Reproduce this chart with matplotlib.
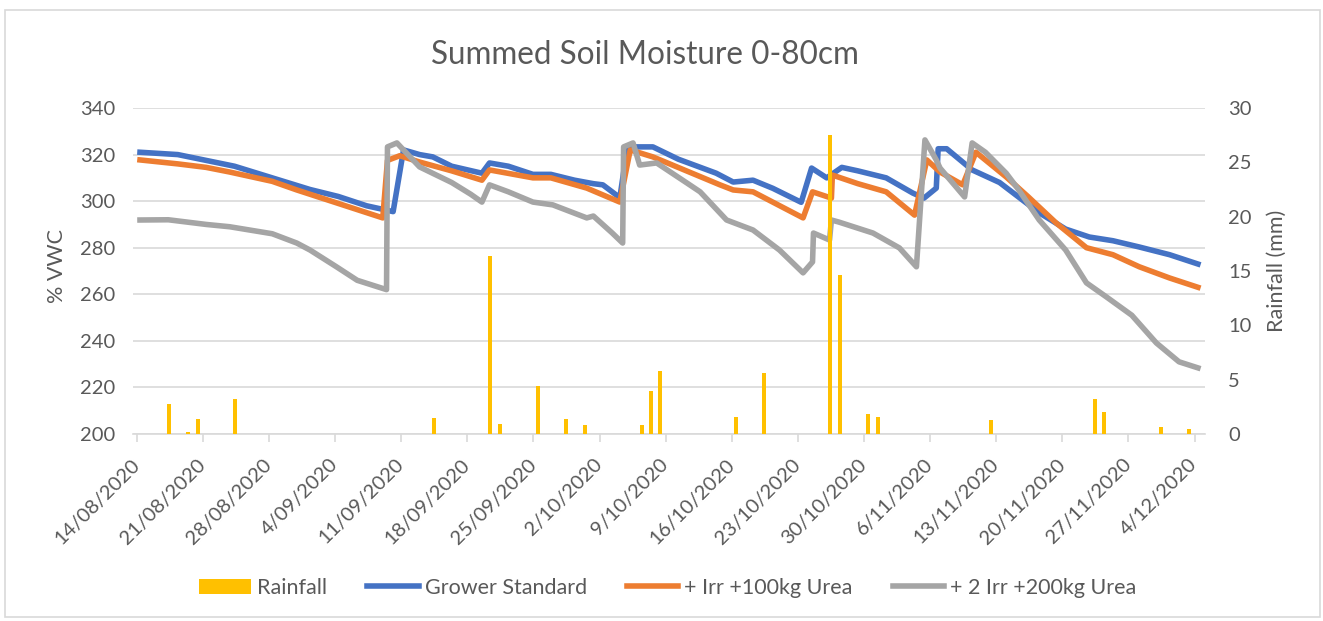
import matplotlib
matplotlib.use("Agg")
import matplotlib.pyplot as plt
import numpy as np

plt.rcParams['font.family'] = ['Lato', 'DejaVu Sans']

# x = days since 14/08/2020
tick_days = list(range(0, 113, 7))
tick_labels = ['14/08/2020', '21/08/2020', '28/08/2020', '4/09/2020', '11/09/2020',
               '18/09/2020', '25/09/2020', '2/10/2020', '9/10/2020', '16/10/2020',
               '23/10/2020', '30/10/2020', '6/11/2020', '13/11/2020', '20/11/2020',
               '27/11/2020', '4/12/2020']

rain_days = [3, 5, 6, 10, 31, 37, 38, 42, 45, 47, 53, 54, 55, 63, 66, 73, 74, 77, 78,
             90, 101, 102, 108, 111]
rain_mm = [2.8, 0.2, 1.4, 3.2, 1.5, 16.4, 0.9, 4.4, 1.4, 0.8, 0.8, 4.0, 5.8, 1.6, 5.6,
           27.5, 14.6, 1.8, 1.6, 1.3, 3.2, 2.0, 0.6, 0.5]

gs_days = [0, 4, 7, 10, 14, 18, 21, 24, 26.8, 27.9, 29.6, 31, 33, 36.2, 37, 39, 41.6,
           43.5, 46, 48, 49, 50.8, 51.6, 54.3, 57, 61, 62.8, 64.9, 67, 70, 71.1, 72.7,
           74.3, 76, 79, 81.8, 83, 84.3, 84.5, 85.4, 88.1, 91, 95.2, 98, 100.5, 103,
           105.8, 109, 112]
gs_vwc = [321, 320, 317.5, 315, 310, 305, 302, 298, 295.5, 322, 320, 319, 315, 312,
          316.4, 315, 311.5, 311.5, 309, 307.5, 307, 301.5, 323.3, 323.3, 318, 312,
          308.2, 309, 305.5, 299.5, 314.2, 310, 314.5, 313, 310, 303.5, 301.3, 305.6,
          322.5, 322.5, 313.4, 308, 295, 288, 284.6, 283, 280.3, 277, 273]

irr1_days = [0, 4, 7, 9.5, 14, 16.6, 21, 25.7, 26.2, 27.5, 29.6, 33, 36.2, 37, 41.6,
             43.5, 47.3, 50.8, 51.9, 54.3, 61.4, 62.8, 64.9, 70.2, 71.2, 73.2, 73.3, 76,
             79, 82, 83.3, 84.7, 87.1, 88.5, 91.7, 94, 97, 100.2, 103, 105.8, 109, 112]
irr1_vwc = [317.7, 316, 314.5, 312.5, 308.5, 304.8, 299, 292.8, 317.5, 319.5, 316.8,
            313, 309, 313.4, 310, 310, 305.6, 299.6, 322, 319, 307, 304.8, 304, 292.8,
            304, 301.3, 311.2, 307.5, 304, 294, 317.7, 312.5, 307, 321, 310.4, 302,
            290.6, 280, 277, 271.8, 267, 263]

irr2_days = [0, 3, 7, 9.5, 14, 16.6, 18, 20.8, 23, 26.1, 26.2, 27.2, 29.6, 33, 35,
             36.2, 37, 39, 41.6, 43.7, 47.3, 48, 50, 51.1, 51.2, 52.2, 52.9, 54.7, 57.9,
             59.3, 62.1, 64.9, 67.7, 70.2, 71.2, 71.3, 73, 73.2, 74, 77.6, 80.4, 82.2,
             83.1, 84.3, 84.7, 87.3, 88.1, 89.5, 91.7, 93, 95.2, 98, 100.2, 102.3, 105,
             107.6, 110, 112]
irr2_vwc = [291.9, 292, 290, 289, 286, 282, 279, 271.8, 266, 262, 323.3, 325, 314.7,
            308, 303, 299.6, 307, 304, 299.6, 298.4, 292.8, 293.6, 286.3, 282, 323.3,
            325, 315.5, 316.4, 307.8, 304, 291.9, 287.6, 279, 269.2, 273.9, 286.3, 283.3,
            291.9, 291, 286.3, 279.9, 271.8, 326.3, 317.7, 314.2, 301.8, 325, 321, 312,
            305, 291.9, 279, 264.9, 258.9, 251, 239.1, 231, 228.4]

txt = '#595959'
grid = '#D9D9D9'
W, H = 1323, 621

fig = plt.figure(figsize=(13.23, 6.21), dpi=100)
ax = fig.add_axes([133 / W, 1 - 434 / H, (1205 - 133) / W, 326 / H])
ax2 = ax.twinx()

# readings sit a little after the day boundary (excel date axis)
lo = 0.35
ax.plot(np.array(gs_days) + lo, gs_vwc, color='#4472C4', lw=4, label='Grower Standard')
ax.plot(np.array(irr1_days) + lo, irr1_vwc, color='#ED7D31', lw=4, label='+ Irr +100kg Urea')
ax.plot(np.array(irr2_days) + lo, irr2_vwc, color='#A5A5A5', lw=4, label='+ 2 Irr +200kg Urea')
ax2.bar(np.array(rain_days) + 0.45, rain_mm, width=0.42, color='#FFC000', label='Rainfall', zorder=3)

ax.set_xlim(-0.39, 113.1)
ax.set_ylim(200, 340)
ax2.set_ylim(0, 30)
ax.set_yticks(range(200, 341, 20))
ax2.set_yticks(range(0, 31, 5))
ax.yaxis.grid(True, color=grid, lw=1.2)
ax.set_axisbelow(True)

for a in (ax, ax2):
    for s in a.spines.values():
        s.set_visible(False)
ax.spines['bottom'].set_visible(True)
ax.spines['bottom'].set_color(grid)
ax.spines['bottom'].set_linewidth(1.2)

ax.set_xticks(tick_days)
ax.set_xticklabels(tick_labels, rotation=45, ha='right', va='center', rotation_mode='anchor')
ax.tick_params(axis='x', colors=grid, length=6, width=1.2, pad=14, labelcolor=txt, labelsize=14.5)
ax.tick_params(axis='y', length=0, labelcolor=txt, labelsize=14.5, pad=13)
ax2.tick_params(axis='y', length=0, labelcolor=txt, labelsize=14.5, pad=16.5)

ax.set_ylabel('% VWC', color=txt, fontsize=15.5)
ax2.set_ylabel('Rainfall (mm)', color=txt, fontsize=15.5, rotation=90)
ax.yaxis.set_label_coords(67 / W, 1 - 266 / H, transform=fig.transFigure)
ax2.yaxis.set_label_coords(1267 / W, 1 - 271 / H, transform=fig.transFigure)

fig.text(645 / W, 1 - 55 / H, 'Summed Soil Moisture 0-80cm', color=txt, fontsize=22.7,
         ha='center', va='center')

h1, l1 = ax.get_legend_handles_labels()
h2, l2 = ax2.get_legend_handles_labels()
leg = fig.legend(h2 + h1, l2 + l1, loc='center', bbox_to_anchor=(668 / W, 1 - 588 / H), ncol=4,
                 frameon=False, fontsize=15.5, handlelength=2.4, handletextpad=0.28,
                 columnspacing=1.85, labelcolor=txt)

fig.patches.append(plt.Rectangle((5 / W, 4 / H), 1315 / W, 607 / H, transform=fig.transFigure,
                                 fill=False, edgecolor=grid, lw=1.2))

fig.savefig('out.png', dpi=100)
